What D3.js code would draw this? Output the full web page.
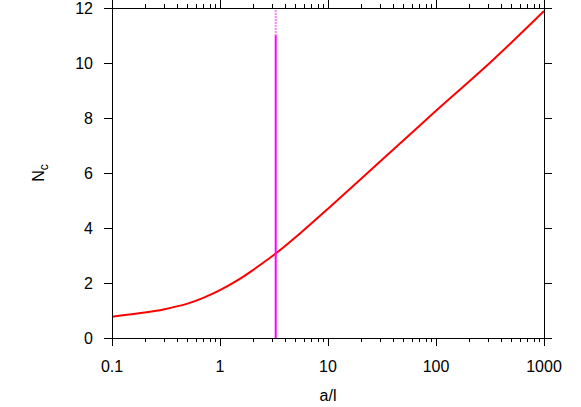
<!DOCTYPE html>
<html>
<head>
<meta charset="utf-8">
<script src="https://cdn.jsdelivr.net/npm/d3@7"></script>
<style>
  body { margin: 0; background: #fff; }
  text { font-family: "Liberation Sans", Arial, sans-serif; fill: #000; }
</style>
</head>
<body>
<div id="container"></div>
<script>
var width = 581;
var height = 407;

// data
var curveX = [0.1, 0.2, 0.3, 0.5, 0.7, 1, 1.5, 2, 3.28, 5.5, 10, 30, 100, 335, 1000];
var curveY = [0.775, 0.927, 1.04, 1.25, 1.46, 1.74, 2.13, 2.46, 3.07, 3.8, 4.7, 6.4, 8.26, 10.1, 11.89];
var markerX = 3.28;      // vertical line position
var markerSolidTop = 11; // solid up to here, dotted above
var xTicks = [0.1, 1, 10, 100, 1000];
var yTicks = [0, 2, 4, 6, 8, 10, 12];

var margin = { left: 112, right: 37, top: 8, bottom: 69 };

var svg = d3.select("div#container")
  .append("svg")
  .attr("width", width)
  .attr("height", height);

var x = d3.scaleLog()
  .domain([0.1, 1000])
  .range([margin.left, width - margin.right]);
var y = d3.scaleLinear()
  .domain([0, 12])
  .range([height - margin.bottom, margin.top]);

var x0 = x.range()[0], x1 = x.range()[1];
var y0 = y.range()[0], y1 = y.range()[1];

// minor ticks for log axis
var minor = [];
for (var e = -1; e < 3; e++) {
  for (var m = 2; m <= 9; m++) minor.push(m * Math.pow(10, e));
}

var ticks = svg.append("g").attr("stroke", "#000").attr("stroke-width", 1);

// bottom & top x ticks (outward)
xTicks.forEach(function (t) {
  var px = Math.round(x(t)) + 0.5;
  ticks.append("line").attr("x1", px).attr("x2", px).attr("y1", y0).attr("y2", y0 + 8);
  ticks.append("line").attr("x1", px).attr("x2", px).attr("y1", y1).attr("y2", y1 - 8);
});
minor.forEach(function (t) {
  var px = Math.round(x(t)) + 0.5;
  ticks.append("line").attr("x1", px).attr("x2", px).attr("y1", y0).attr("y2", y0 + 4);
  ticks.append("line").attr("x1", px).attr("x2", px).attr("y1", y1).attr("y2", y1 - 4);
});
// left & right y ticks (outward)
yTicks.forEach(function (t) {
  var py = Math.round(y(t)) + 0.5;
  ticks.append("line").attr("x1", x0).attr("x2", x0 - 8).attr("y1", py).attr("y2", py);
  ticks.append("line").attr("x1", x1).attr("x2", x1 + 8).attr("y1", py).attr("y2", py);
});

// tick labels
svg.append("g").selectAll("text")
  .data(xTicks)
  .enter()
  .append("text")
  .attr("x", function (d) { return x(d); })
  .attr("y", y0 + 34)
  .attr("text-anchor", "middle")
  .style("font-size", "16px")
  .text(function (d) { return d3.format("~g")(d); });

svg.append("g").selectAll("text")
  .data(yTicks)
  .enter()
  .append("text")
  .attr("x", x0 - 19)
  .attr("y", function (d) { return y(d) + 6; })
  .attr("text-anchor", "end")
  .style("font-size", "16px")
  .text(function (d) { return d; });

// axis titles
svg.append("text")
  .attr("x", (x0 + x1) / 2)
  .attr("y", 401)
  .attr("text-anchor", "middle")
  .style("font-size", "16px")
  .text("a/l");

var ylab = svg.append("text")
  .attr("transform", "translate(44," + ((y0 + y1) / 2) + ") rotate(-90)")
  .attr("text-anchor", "middle")
  .style("font-size", "16px");
ylab.append("tspan").text("N");
ylab.append("tspan").attr("dy", 4).style("font-size", "12px").text("c");

// red curve
var pts = curveX.map(function (d, i) { return [d, curveY[i]]; });
var line = d3.line()
  .x(function (d) { return x(d[0]); })
  .y(function (d) { return y(d[1]); })
  .curve(d3.curveCatmullRom.alpha(0.5));

svg.append("path")
  .datum(pts)
  .attr("d", line)
  .attr("fill", "none")
  .attr("stroke", "#ff0000")
  .attr("stroke-width", 2);

// magenta marker
svg.append("line")
  .attr("x1", x(markerX)).attr("x2", x(markerX))
  .attr("y1", y(0)).attr("y2", y(markerSolidTop))
  .attr("stroke", "#ff00ff")
  .attr("stroke-width", 2);
svg.append("line")
  .attr("x1", x(markerX)).attr("x2", x(markerX))
  .attr("y1", y(markerSolidTop)).attr("y2", y(12))
  .attr("stroke", "#ff00ff")
  .attr("stroke-width", 2)
  .attr("stroke-dasharray", "1,2");

// frame
svg.append("rect")
  .attr("x", x0 + 0.5)
  .attr("y", y1 + 0.5)
  .attr("width", x1 - x0)
  .attr("height", y0 - y1)
  .attr("fill", "none")
  .attr("stroke", "#000")
  .attr("stroke-width", 1);
</script>
</body>
</html>
